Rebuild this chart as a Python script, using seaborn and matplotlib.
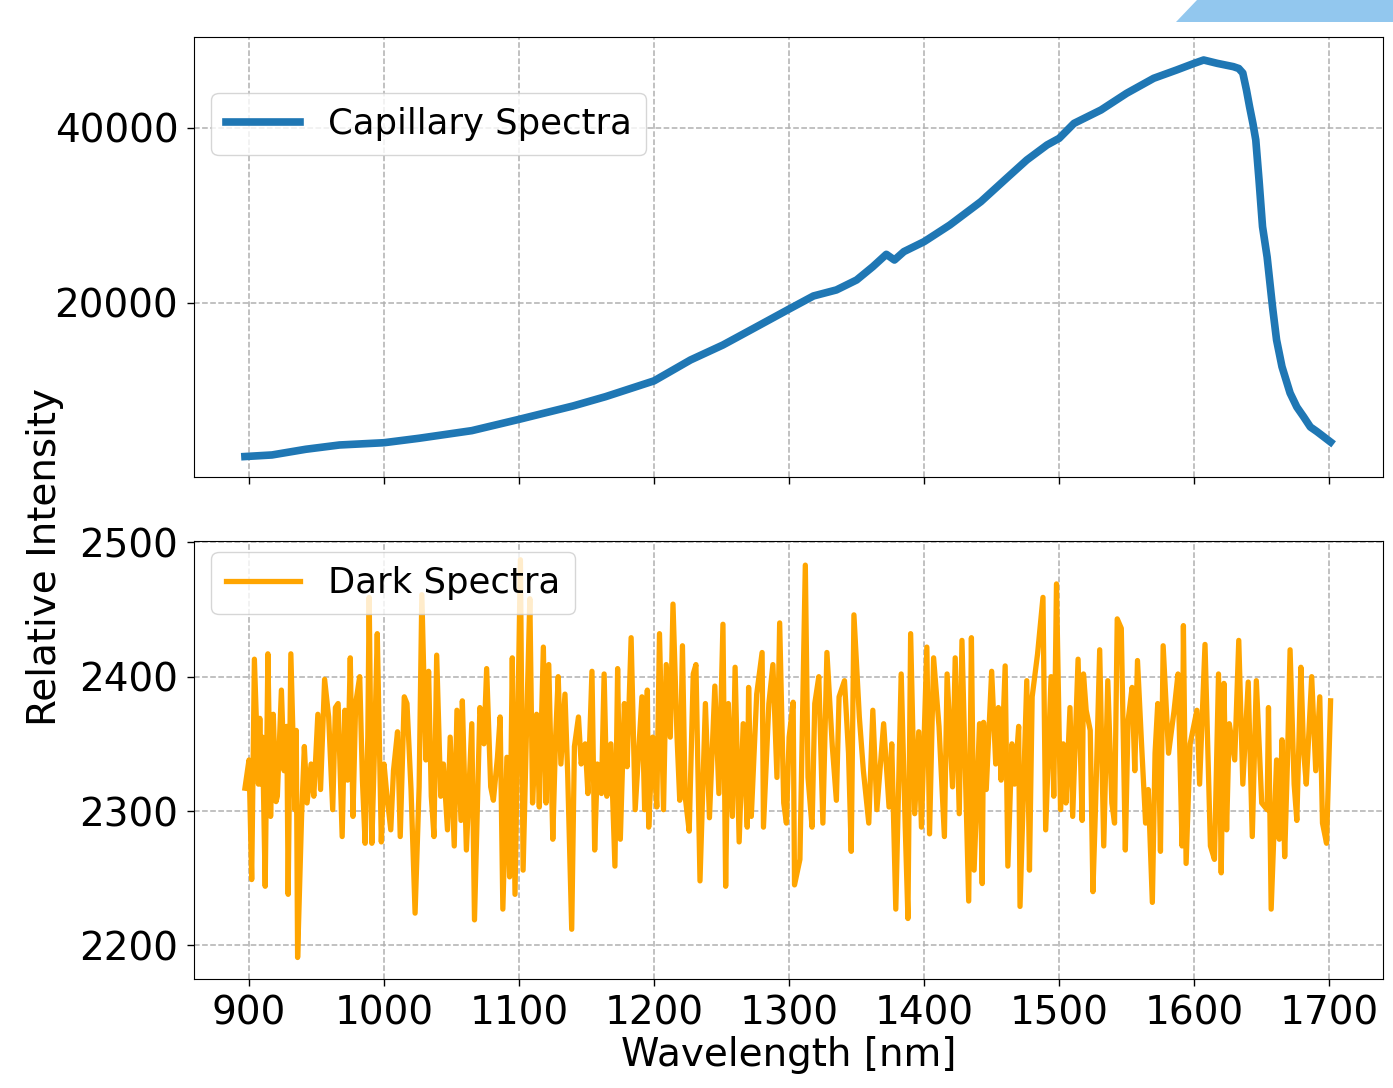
import matplotlib
matplotlib.use("Agg")
import matplotlib.pyplot as plt
from matplotlib.patches import Polygon
import seaborn as sns

# capillary spectrum
cap_nm = [897, 917, 942, 967, 1000, 1026, 1065, 1100, 1140, 1164, 1200, 1227, 1251, 1276,
          1301, 1318, 1335, 1350, 1362, 1372, 1378, 1385, 1400, 1419, 1442, 1461, 1476,
          1491, 1500, 1511, 1531, 1550, 1570, 1587, 1600, 1607, 1617, 1629, 1633, 1636,
          1638.7, 1641, 1643.5, 1645.6, 1648, 1650.6, 1654, 1658, 1661, 1665, 1671, 1676,
          1681, 1686, 1691, 1701]
cap_val = [2450, 2630, 3280, 3770, 4030, 4540, 5410, 6700, 8230, 9290, 11100, 13490, 15200,
           17290, 19390, 20800, 21490, 22630, 24150, 25560, 24910, 25870, 27010, 28910,
           31580, 34250, 36340, 38060, 38820, 40530, 42060, 43970, 45680, 46630, 47390,
           47770, 47390, 47010, 46800, 46280, 44340, 42430, 40500, 38630, 34060, 28720,
           25260, 19540, 15770, 12720, 9710, 8110, 7000, 5830, 5290, 4110]

# dark spectrum
dark_nm = [897, 900, 902, 904, 907, 908, 909, 910, 912, 914, 916, 918, 920, 921, 924, 926,
           928, 929, 931, 934, 935, 936, 939, 941, 943, 946, 948, 951, 953, 956, 959, 962,
           964, 966, 969, 971, 973, 975, 977, 979, 982, 984, 986, 988, 989, 991, 993, 995,
           998, 1000, 1002, 1005, 1007, 1010, 1012, 1015, 1017, 1020, 1023, 1026, 1028, 1031,
           1033, 1035, 1037, 1039, 1042, 1044, 1047, 1049, 1052, 1054, 1057, 1058, 1061, 1065,
           1067, 1071, 1074, 1076, 1079, 1081, 1084, 1086, 1088, 1091, 1093, 1095, 1097, 1099,
           1101, 1103, 1106, 1108, 1110, 1113, 1115, 1118, 1120, 1122, 1125, 1127, 1129, 1131,
           1134, 1136, 1139, 1141, 1144, 1146, 1149, 1151, 1154, 1156, 1158, 1161, 1163, 1165,
           1168, 1171, 1173, 1175, 1178, 1180, 1183, 1186, 1191, 1193, 1195, 1196, 1199, 1202,
           1204, 1207, 1209, 1212, 1214, 1217, 1219, 1221, 1223, 1226, 1229, 1231, 1234, 1238,
           1241, 1245, 1248, 1251, 1253, 1255, 1258, 1260, 1263, 1266, 1269, 1270, 1272, 1276,
           1280, 1281, 1285, 1288, 1291, 1293, 1296, 1298, 1300, 1303, 1304, 1308, 1312, 1314,
           1317, 1319, 1322, 1325, 1328, 1332, 1335, 1337, 1341, 1344, 1346, 1348, 1352, 1355,
           1359, 1362, 1365, 1370, 1374, 1376, 1379, 1383, 1386, 1388, 1390, 1393, 1396, 1398,
           1402, 1404, 1407, 1411, 1415, 1417, 1421, 1423, 1426, 1428, 1433, 1435, 1437, 1441,
           1443, 1444, 1446, 1450, 1453, 1455, 1457, 1460, 1462, 1465, 1467, 1470, 1471, 1476,
           1478, 1480, 1484, 1488, 1490, 1494, 1496, 1498, 1501, 1503, 1505, 1508, 1510, 1514,
           1517, 1518, 1520, 1523, 1525, 1527, 1530, 1533, 1536, 1539, 1541, 1543, 1546, 1549,
           1551, 1554, 1556, 1558, 1561, 1564, 1566, 1569, 1571, 1573, 1575, 1577, 1581, 1585,
           1588, 1591, 1592, 1594, 1597, 1602, 1604, 1608, 1612, 1615, 1618, 1620, 1622, 1624,
           1626, 1630, 1633, 1636, 1640, 1643, 1646, 1650, 1654, 1655, 1657, 1661, 1663, 1665,
           1667, 1669, 1671, 1674, 1676, 1679, 1681, 1683, 1687, 1690, 1693, 1695, 1698, 1701]
dark_val = [2317, 2338, 2249, 2413, 2320, 2369, 2320, 2355, 2244, 2417, 2296, 2372, 2307, 2311,
            2390, 2330, 2363, 2238, 2417, 2301, 2360, 2191, 2298, 2348, 2306, 2335, 2311, 2372,
            2316, 2398, 2370, 2301, 2377, 2380, 2281, 2375, 2323, 2414, 2296, 2380, 2400, 2323,
            2276, 2355, 2459, 2276, 2348, 2432, 2277, 2335, 2313, 2286, 2330, 2359, 2281, 2385,
            2380, 2316, 2224, 2318, 2461, 2338, 2404, 2311, 2281, 2416, 2311, 2335, 2286, 2355,
            2274, 2375, 2293, 2382, 2271, 2365, 2219, 2377, 2350, 2406, 2318, 2308, 2340, 2370,
            2227, 2340, 2251, 2414, 2238, 2360, 2487, 2256, 2380, 2458, 2306, 2372, 2303, 2422,
            2306, 2409, 2279, 2353, 2400, 2335, 2387, 2328, 2212, 2348, 2370, 2335, 2350, 2313,
            2404, 2271, 2335, 2313, 2402, 2311, 2350, 2259, 2406, 2279, 2380, 2333, 2429, 2301,
            2385, 2301, 2390, 2288, 2355, 2303, 2432, 2301, 2409, 2355, 2454, 2355, 2308, 2423,
            2311, 2285, 2402, 2409, 2248, 2380, 2295, 2393, 2313, 2439, 2244, 2380, 2296, 2407,
            2277, 2365, 2288, 2392, 2296, 2387, 2418, 2288, 2380, 2409, 2325, 2440, 2306, 2291,
            2355, 2381, 2245, 2264, 2483, 2325, 2288, 2380, 2400, 2291, 2418, 2348, 2308, 2385,
            2397, 2343, 2270, 2446, 2370, 2330, 2291, 2375, 2301, 2365, 2303, 2350, 2227, 2402,
            2288, 2220, 2432, 2298, 2359, 2288, 2422, 2283, 2414, 2363, 2281, 2402, 2318, 2414,
            2298, 2427, 2233, 2429, 2256, 2365, 2246, 2366, 2316, 2404, 2335, 2377, 2323, 2408,
            2259, 2350, 2320, 2363, 2229, 2397, 2256, 2385, 2417, 2459, 2286, 2400, 2311, 2469,
            2301, 2350, 2306, 2377, 2296, 2413, 2293, 2402, 2375, 2360, 2240, 2306, 2420, 2274,
            2397, 2306, 2291, 2443, 2436, 2271, 2367, 2392, 2330, 2412, 2350, 2291, 2316, 2232,
            2343, 2380, 2270, 2423, 2343, 2374, 2402, 2274, 2438, 2261, 2350, 2375, 2320, 2424,
            2274, 2264, 2402, 2254, 2395, 2286, 2365, 2338, 2427, 2320, 2396, 2281, 2397, 2306,
            2301, 2377, 2227, 2338, 2279, 2353, 2266, 2335, 2420, 2320, 2293, 2407, 2345, 2320,
            2400, 2330, 2385, 2291, 2276, 2382]

x_ticks = [900, 1000, 1100, 1200, 1300, 1400, 1500, 1600, 1700]
top_yticks = [0, 20000, 40000]
bottom_yticks = [2200, 2300, 2400, 2500]

fs = 28
fig = plt.figure(figsize=(13.93, 10.88), dpi=100)
ax1 = fig.add_axes([0.139, 0.5616, 0.854, 0.4044])
ax2 = fig.add_axes([0.139, 0.1002, 0.854, 0.4026], sharex=ax1)

sns.lineplot(x=cap_nm, y=cap_val, ax=ax1, color="#1f77b4", linewidth=5.5,
             label="Capillary Spectra", estimator=None)
sns.lineplot(x=dark_nm, y=dark_val, ax=ax2, color="orange", linewidth=3.8,
             label="Dark Spectra", estimator=None)

for ax in (ax1, ax2):
    ax.grid(True, linestyle="--", color="#b0b0b0", linewidth=1.1)
    ax.set_axisbelow(True)
    ax.tick_params(labelsize=fs, length=5, width=1, pad=6)
    ax.set_xlabel("")
    ax.set_ylabel("")

ax1.set_yticks(top_yticks)
ax1.set_ylim(114, 50400)
ax2.set_yticks(bottom_yticks)
ax2.set_ylim(2175, 2501)
ax2.set_xticks(x_ticks)
ax2.set_xlim(859, 1740)
ax1.tick_params(labelbottom=False)

ax1.legend(loc="upper left", bbox_to_anchor=(0.015, 0.873), borderaxespad=0,
           fontsize=25.5, handlelength=2.1)
ax2.legend(loc="upper left", bbox_to_anchor=(0.015, 0.975), borderaxespad=0,
           fontsize=25.5, handlelength=2.1)

fig.text(0.032, 0.488, "Relative Intensity", rotation=90, ha="center", va="center", fontsize=fs)
fig.text(0.566, 0.030, "Wavelength [nm]", ha="center", va="center", fontsize=fs)

# light blue band in the top-right corner
corner = Polygon([(1197 / 1393, 1.0), (1.0, 1.0), (1.0, 1 - 22 / 1088), (1176 / 1393, 1 - 22 / 1088)],
                 closed=True, transform=fig.transFigure, facecolor="#92c7ee", edgecolor="none")
fig.patches.append(corner)

fig.savefig("out.png", dpi=100)
plt.close(fig)
